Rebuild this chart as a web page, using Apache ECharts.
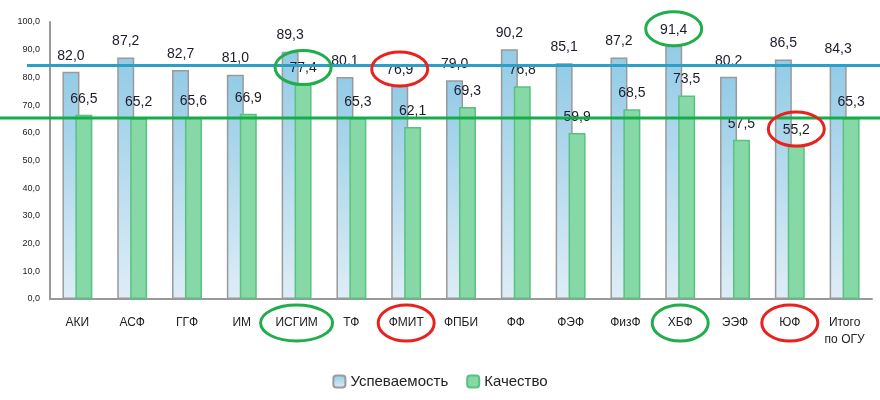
<!DOCTYPE html>
<html>
<head>
<meta charset="utf-8">
<script src="https://cdn.jsdelivr.net/npm/echarts@6/dist/echarts.min.js"></script>
<style>
  html, body { margin: 0; padding: 0; background: #fff; }
  #chart { width: 880px; height: 400px; }
</style>
</head>
<body>
<div id="chart"></div>
<script>
const categories = ['АКИ', 'АСФ', 'ГГФ', 'ИМ', 'ИСГИМ', 'ТФ', 'ФМИТ', 'ФПБИ', 'ФФ', 'ФЭФ', 'ФизФ', 'ХБФ', 'ЭЭФ', 'ЮФ', 'Итого\nпо ОГУ'];
const uspevaemost = [82.0, 87.2, 82.7, 81.0, 89.3, 80.1, 76.9, 79.0, 90.2, 85.1, 87.2, 91.4, 80.2, 86.5, 84.3];
const kachestvo = [66.5, 65.2, 65.6, 66.9, 77.4, 65.3, 62.1, 69.3, 76.8, 59.9, 68.5, 73.5, 57.5, 55.2, 65.3];
const seriesNames = ['Успеваемость', 'Качество'];

// marked labels: [category index, series index, colour]
const valueMarks = [[4, 1, '#1fae4b'], [6, 0, '#e8231f'], [11, 0, '#1fae4b'], [13, 1, '#e8231f']];
const axisMarks = [[4, '#1fae4b'], [6, '#e8231f'], [11, '#1fae4b'], [13, '#e8231f']];

const chart = echarts.init(document.getElementById('chart'), null, { renderer: 'canvas' });
const fmt = v => v.toFixed(1).replace('.', ',');
const font = '"Liberation Sans", Arial, sans-serif';

const labelStyle = {
  show: true,
  position: 'top',
  distance: 9,
  color: '#1b1b2a',
  fontSize: 14,
  fontFamily: font,
  formatter: p => fmt(p.value)
};

chart.setOption({
  animation: false,
  grid: { left: 50, right: 8, top: 22, bottom: 101 },
  legend: {
    bottom: 6,
    left: 'center',
    itemWidth: 12,
    itemHeight: 12,
    itemGap: 18,
    textStyle: { fontSize: 15, color: '#222', fontFamily: font },
    data: seriesNames
  },
  xAxis: {
    type: 'category',
    data: categories,
    axisLine: { lineStyle: { color: '#999', width: 2 } },
    axisTick: { show: false },
    axisLabel: { color: '#222', fontSize: 12, fontFamily: font, margin: 15, interval: 0, lineHeight: 17 }
  },
  yAxis: {
    type: 'value',
    min: 0,
    max: 100,
    interval: 10,
    splitLine: { show: false },
    axisLine: { show: true, lineStyle: { color: '#999', width: 2 } },
    axisTick: { show: false },
    axisLabel: { color: '#222', fontSize: 9, fontFamily: font, margin: 10, formatter: fmt }
  },
  series: [
    {
      name: seriesNames[0],
      type: 'bar',
      data: uspevaemost,
      barWidth: 17,
      barGap: '-24%',
      itemStyle: {
        color: new echarts.graphic.LinearGradient(0, 0, 0, 1, [
          { offset: 0, color: '#93cbe6' },
          { offset: 1, color: '#deedf7' }
        ]),
        borderColor: '#9a9a9a',
        borderWidth: 1.5
      },
      label: labelStyle
    },
    {
      name: seriesNames[1],
      type: 'bar',
      data: kachestvo,
      barWidth: 17,
      itemStyle: { color: '#86d8a6', borderColor: '#58c27f', borderWidth: 1.5 },
      label: labelStyle
    }
  ]
});

// reference lines at the "Итого" values and hand-drawn ellipses
const last = categories.length - 1;
const yBlue = chart.convertToPixel({ yAxisIndex: 0 }, uspevaemost[last]);
const yGreen = chart.convertToPixel({ yAxisIndex: 0 }, kachestvo[last]);
const xAxisY = chart.convertToPixel({ yAxisIndex: 0 }, 0);
const graphics = [
  { type: 'line', shape: { x1: 27, y1: yBlue, x2: 880, y2: yBlue }, style: { stroke: '#2aa0c8', lineWidth: 3 }, z: 20 },
  { type: 'line', shape: { x1: 0, y1: yGreen, x2: 880, y2: yGreen }, style: { stroke: '#14ad4a', lineWidth: 3 }, z: 20 }
];
valueMarks.forEach(([ci, si, color]) => {
  const data = si === 0 ? uspevaemost : kachestvo;
  const p = chart.convertToPixel({ seriesIndex: si }, [ci, data[ci]]);
  const dx = si === 0 ? -6.5 : 6.5;
  graphics.push({
    type: 'ellipse',
    shape: { cx: p[0] + dx, cy: p[1] - 17, rx: 28, ry: 17 },
    style: { fill: null, stroke: color, lineWidth: 3 },
    z: 30
  });
});
axisMarks.forEach(([ci, color]) => {
  const x = chart.convertToPixel({ xAxisIndex: 0 }, categories[ci]);
  graphics.push({
    type: 'ellipse',
    shape: { cx: x, cy: xAxisY + 24, rx: ci === 4 ? 36 : 28, ry: 18 },
    style: { fill: null, stroke: color, lineWidth: 3 },
    z: 30
  });
});
chart.setOption({ graphic: graphics });
</script>
</body>
</html>
